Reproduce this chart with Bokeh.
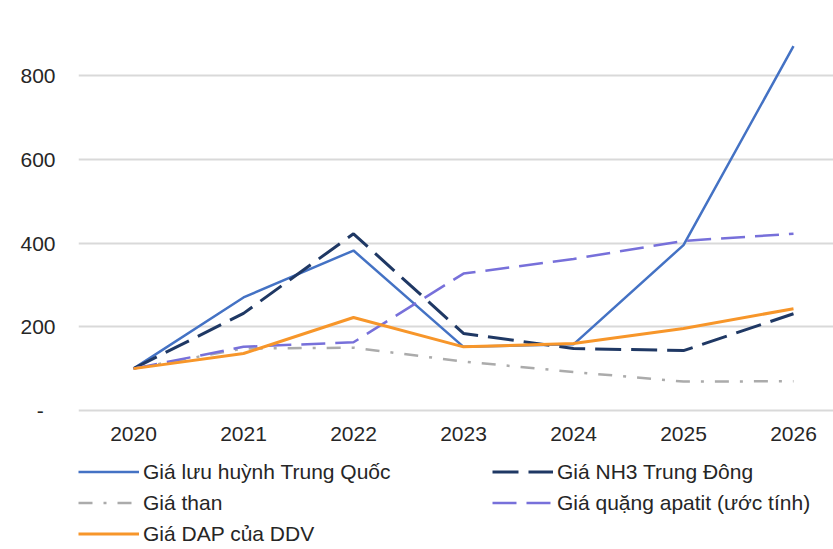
from bokeh.plotting import figure
from bokeh.models import Range1d, FixedTicker, Legend, LegendItem
from bokeh.embed import file_html
from bokeh.resources import INLINE

years = [2020, 2021, 2022, 2023, 2024, 2025, 2026]
sulfur = [100, 270, 382, 152, 158, 395, 870]
nh3 = [100, 232, 422, 184, 148, 143, 231]
coal = [100, 148, 150, 117, 92, 69, 70]
apatite = [100, 152, 163, 327, 362, 405, 422]
dap = [100, 136, 222, 152, 160, 196, 243]

y_ticks = [0, 200, 400, 600, 800]
y_labels = {0: "-\u2007", 200: "200", 400: "400", 600: "600", 800: "800"}

names = ["Giá lưu huỳnh Trung Quốc", "Giá NH3 Trung Đông", "Giá than",
         "Giá quặng apatit (ước tính)", "Giá DAP của DDV"]

FONT = "Liberation Sans"
TXT = "#262626"
FS = "21px"

PX_PER_UNIT = 335 / 800  # screen pixels per data unit
p = figure(width=833, height=549, output_backend="svg", toolbar_location=None,
           x_range=Range1d(2019.5, 2019.5 + 755 / 110),
           y_range=Range1d(-139 / PX_PER_UNIT, 410 / PX_PER_UNIT),
           min_border_left=78, min_border_right=0, min_border_top=0, min_border_bottom=0)
p.outline_line_color = None
p.background_fill_color = "white"
p.border_fill_color = "white"

p.xaxis.ticker = FixedTicker(ticks=years)
p.xaxis.fixed_location = 0
p.yaxis.ticker = FixedTicker(ticks=y_ticks)
p.yaxis.major_label_overrides = y_labels
for ax in (p.xaxis[0], p.yaxis[0]):
    ax.axis_line_color = None
    ax.major_tick_line_color = None
    ax.minor_tick_line_color = None
    ax.major_tick_out = 0
    ax.major_tick_in = 0
    ax.major_label_text_font = FONT
    ax.major_label_text_font_size = FS
    ax.major_label_text_color = TXT
p.xaxis.major_label_standoff = 16
p.yaxis.major_label_standoff = 23

p.xgrid.grid_line_color = None
p.ygrid.grid_line_color = "#D9D9D9"
p.ygrid.grid_line_width = 2

r1 = p.line(years, sulfur, line_color="#4472C4", line_width=2.5)
r2 = p.line(years, nh3, line_color="#1F3864", line_width=3, line_dash="26 10")
r3 = p.line(years, coal, line_color="#ABABAB", line_width=2.5, line_dash="14 11 3 11")
r4 = p.line(years, apatite, line_color="#7770DA", line_width=2.5, line_dash="24 10")
r5 = p.line(years, dap, line_color="#F7962A", line_width=3)

items = [LegendItem(label=n, renderers=[r]) for n, r in zip(names, [r1, r2, r3, r4, r5])]
legend = Legend(items=items, location=(0, 0), orientation="horizontal", ncols=2,
                glyph_width=61, glyph_height=31, label_height=31, label_width=349,
                label_standoff=4, spacing=0, padding=0, margin=0,
                border_line_color=None, background_fill_alpha=0,
                label_text_font=FONT, label_text_font_size=FS, label_text_color=TXT)
p.add_layout(legend, "center")

open("out.html", "w").write(file_html(p, INLINE))
